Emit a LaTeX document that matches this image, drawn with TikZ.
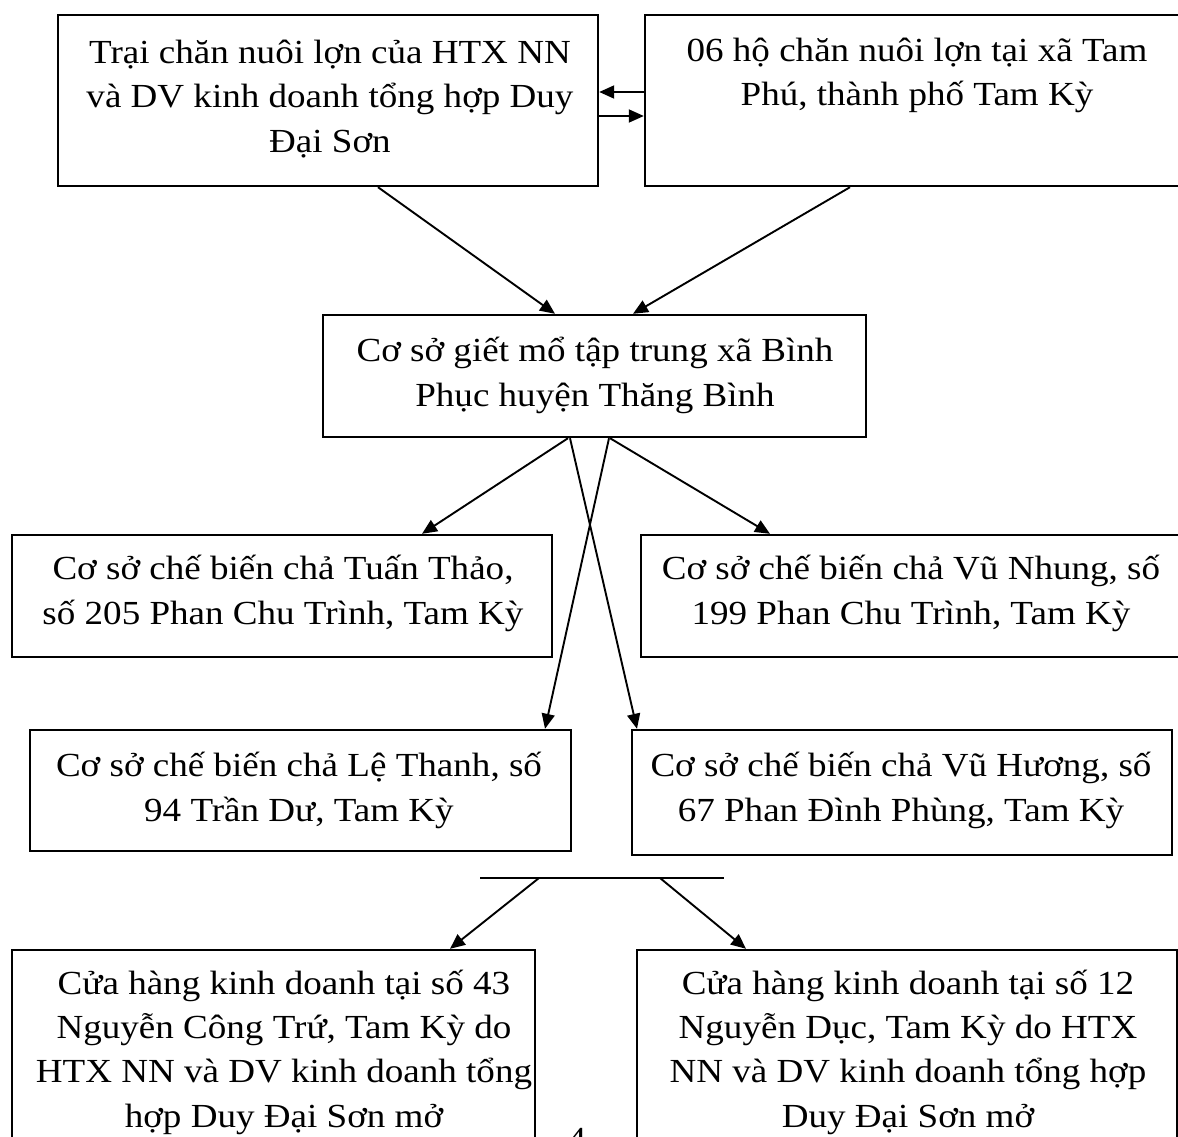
\documentclass[tikz,border=0pt]{standalone}
\usepackage{fontspec}
\setmainfont[FakeStretch=1.1]{Liberation Serif}
\usetikzlibrary{arrows.meta,calc}
\begin{document}
\begin{tikzpicture}[x=1pt,y=-1pt,
  box/.style={draw, line width=2.4pt, rectangle, inner sep=0pt},
  txt/.style={align=center, font=\fontsize{33.7}{44.3}\selectfont, inner sep=0pt},
  conn/.style={line width=1.9pt, -{Triangle[length=15pt,width=13pt]}},
  plain/.style={line width=1.9pt},
]
\clip (0,0) rectangle (1178,1137);
\fill[white] (0,0) rectangle (1178,1137);

% boxes
\node[box, minimum width=540pt, minimum height=171pt] (A) at (328,100.5) {};
\node[box, minimum width=545pt, minimum height=171pt] (B) at (917.5,100.5) {};
\node[box, minimum width=543pt, minimum height=122pt] (C) at (594.5,376) {};
\node[box, minimum width=540pt, minimum height=122pt] (D) at (282,596) {};
\node[box, minimum width=549pt, minimum height=122pt] (E) at (915.5,596) {};
\node[box, minimum width=541pt, minimum height=121pt] (F) at (300.5,790.5) {};
\node[box, minimum width=540pt, minimum height=125pt] (G) at (902,792.5) {};
\node[box, minimum width=523pt, minimum height=210pt] (H) at (273.5,1055) {};
\node[box, minimum width=540pt, minimum height=210pt] (I) at (907,1055) {};

% texts
\node[txt] (tA) at (330,99) {Trại chăn nuôi lợn của HTX NN\\và DV kinh doanh tổng hợp Duy\\Đại Sơn};
\node[txt] (tB) at (917,75.5) {06 hộ chăn nuôi lợn tại xã Tam\\Phú, thành phố Tam Kỳ};
\node[txt] (tC) at (595,375.5) {Cơ sở giết mổ tập trung xã Bình\\Phục huyện Thăng Bình};
\node[txt] (tD) at (283,593.5) {Cơ sở chế biến chả Tuấn Thảo,\\số 205 Phan Chu Trình, Tam Kỳ};
\node[txt] (tE) at (911,593.5) {Cơ sở chế biến chả Vũ Nhung, số\\199 Phan Chu Trình, Tam Kỳ};
\node[txt] (tF) at (299,790.5) {Cơ sở chế biến chả Lệ Thanh, số\\94 Trần Dư, Tam Kỳ};
\node[txt] (tG) at (901,790.5) {Cơ sở chế biến chả Vũ Hương, số\\67 Phan Đình Phùng, Tam Kỳ};
\node[txt] (tH) at (284,1052) {Cửa hàng kinh doanh tại số 43\\Nguyễn Công Trứ, Tam Kỳ do\\HTX NN và DV kinh doanh tổng\\hợp Duy Đại Sơn mở};
\node[txt] (tI) at (908,1052) {Cửa hàng kinh doanh tại số 12\\Nguyễn Dục, Tam Kỳ do HTX\\NN và DV kinh doanh tổng hợp\\Duy Đại Sơn mở};
\node[txt, anchor=base] (pg) at (577,1150) {4};

% arrows between top boxes
\draw[conn] ([yshift=8.5pt]B.west) -- ([yshift=8.5pt]A.east);
\draw[conn] ([yshift=-15.5pt]A.east) -- ([yshift=-15.5pt]B.west);

% to slaughterhouse
\draw[conn] ([xshift=50pt]A.south) -- ([xshift=-39.5pt]C.north);
\draw[conn] ([xshift=-67.5pt]B.south) -- ([xshift=38.5pt]C.north);

% from slaughterhouse
\draw[conn] ([xshift=-26.5pt]C.south) -- ([xshift=140pt]D.north);
\draw[conn] ([xshift=15.5pt]C.south) -- ([xshift=-145.5pt]E.north);
\draw[conn] ([xshift=-24.5pt]C.south) -- ([xshift=-265pt]G.north);
\draw[conn] ([xshift=14.5pt]C.south) -- ([xshift=244.5pt]F.north);

% bar and shops
\coordinate (h1) at (480,878);
\coordinate (h2) at (724,878);
\coordinate (hL) at (539,878);
\coordinate (hR) at (660,878);
\draw[plain] (h1) -- (h2);
\draw[conn] (hL) -- ([xshift=176.5pt]H.north);
\draw[conn] (hR) -- ([xshift=-161pt]I.north);
\end{tikzpicture}
\end{document}
